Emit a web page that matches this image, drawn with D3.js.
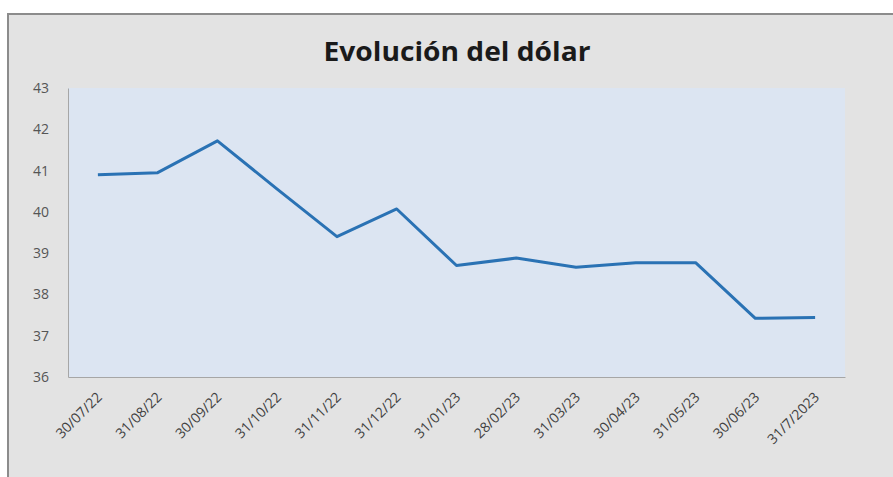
<!DOCTYPE html>
<html><head><meta charset="utf-8">
<script src="https://cdn.jsdelivr.net/npm/d3@7"></script>
<style>html,body{margin:0;padding:0;background:#fff;}svg{display:block;}</style>
</head><body>
<svg id="c" width="893" height="477"></svg>
<script>
const titleText = "Evolución del dólar";
const categories = ["30/07/22","31/08/22","30/09/22","31/10/22","31/11/22","31/12/22","31/01/23","28/02/23","31/03/23","30/04/23","31/05/23","30/06/23","31/7/2023"];
const values = [40.9, 40.95, 41.72, 40.55, 39.4, 40.07, 38.7, 38.88, 38.66, 38.77, 38.77, 37.42, 37.44];
const yTicks = [36,37,38,39,40,41,42,43];

const svg = d3.select("#c");
const W = 893, H = 477;
const m = {left:68, right:48, top:88, bottom:100};
const font = "'Open Sans', sans-serif";

svg.append("rect").attr("x",0).attr("y",0).attr("width",W).attr("height",H).attr("fill","#ffffff");
svg.append("rect").attr("x",8).attr("y",14).attr("width",W).attr("height",H).attr("fill","#e3e3e3");
svg.append("line").attr("x1",7).attr("x2",W).attr("y1",14).attr("y2",14).attr("stroke","#8c8c8c").attr("stroke-width",2);
svg.append("line").attr("x1",8).attr("x2",8).attr("y1",13).attr("y2",H).attr("stroke","#8c8c8c").attr("stroke-width",2);

const x = d3.scaleBand().domain(categories).range([m.left, W - m.right]);
const y = d3.scaleLinear().domain([36,43]).range([H - m.bottom, m.top]);

svg.append("rect").attr("x",m.left).attr("y",m.top).attr("width",W-m.right-m.left).attr("height",H-m.bottom-m.top).attr("fill","#dce5f2");

svg.append("text").attr("x",457).attr("y",61).attr("text-anchor","middle")
  .attr("font-family",font).attr("font-weight","bold")
  .attr("font-size",27).attr("fill","#1a1a1a").attr("textLength",267).attr("lengthAdjust","spacingAndGlyphs")
  .text(titleText);

const yAxis = svg.append("g").attr("transform",`translate(${m.left},0)`)
  .call(d3.axisLeft(y).tickValues(yTicks).tickFormat(d3.format("d")).tickSize(0).tickPadding(19));
yAxis.select(".domain").attr("stroke","#a6a6a6");
yAxis.selectAll("text").attr("font-family",font).attr("font-size",14).attr("fill","#555555");

const xAxis = svg.append("g").attr("transform",`translate(0,${H-m.bottom})`)
  .call(d3.axisBottom(x).tickSize(0).tickPadding(0));
xAxis.select(".domain").attr("stroke","#a6a6a6");
xAxis.selectAll("text")
  .attr("font-family",font).attr("font-size",14).attr("fill","#404040")
  .attr("text-anchor","end").attr("dy",0).attr("y",0)
  .attr("transform","translate(5,21) rotate(-45)");

const line = d3.line().x((d,i)=>x(categories[i]) + x.bandwidth()/2).y(d=>y(d));
svg.append("path").datum(values).attr("d",line).attr("fill","none")
  .attr("stroke","#2a72b4").attr("stroke-width",3).attr("stroke-linejoin","round");
</script>
</body></html>
